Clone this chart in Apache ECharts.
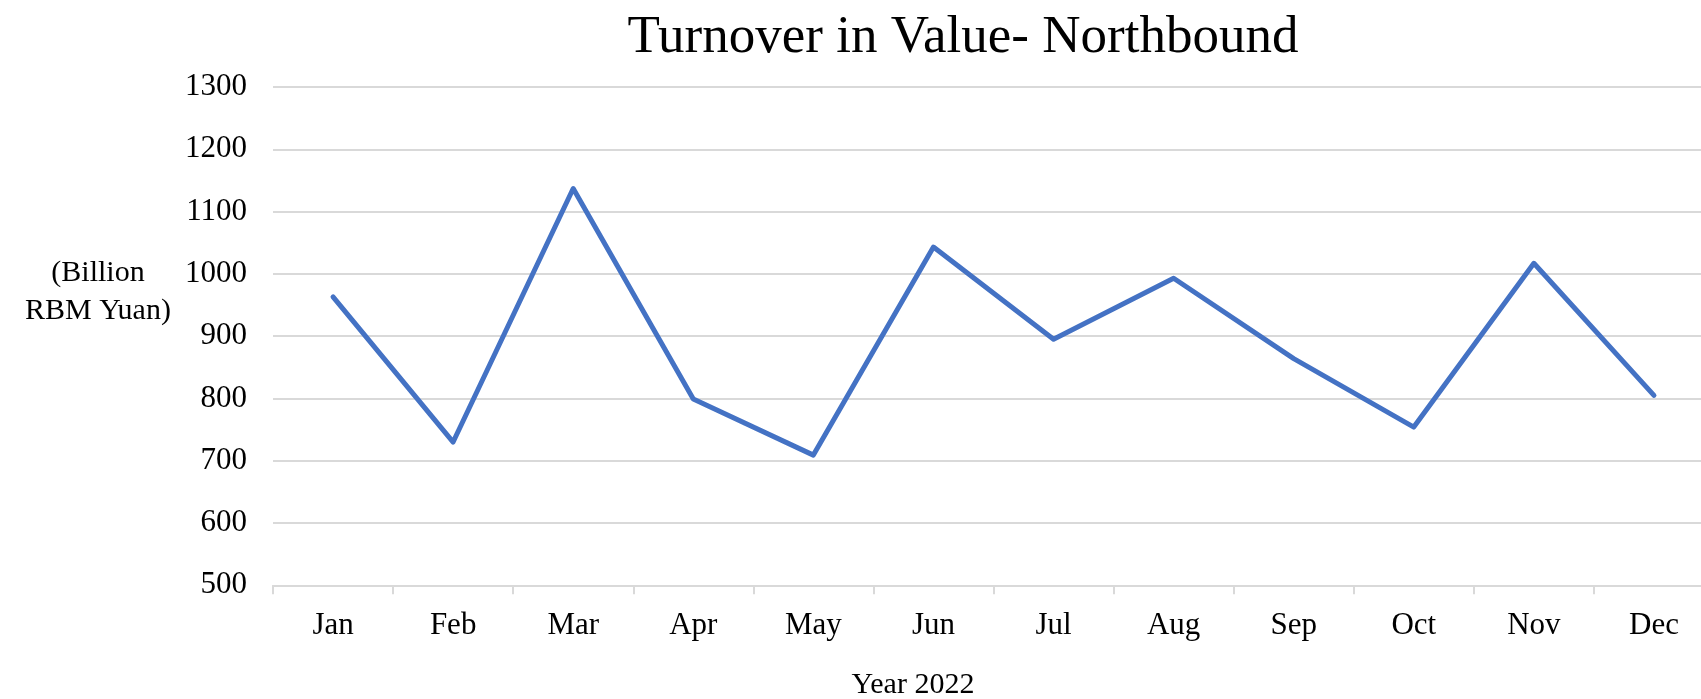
<!DOCTYPE html>
<html>
<head>
<meta charset="utf-8">
<script src="https://cdn.jsdelivr.net/npm/echarts@6/dist/echarts.min.js"></script>
<style>
html,body{margin:0;padding:0;background:#fff;}
#c{width:1701px;height:699px;}
</style>
</head>
<body>
<div id="c"></div>
<script>
const months = ['Jan','Feb','Mar','Apr','May','Jun','Jul','Aug','Sep','Oct','Nov','Dec'];
const turnover = [963, 730, 1137, 799, 709, 1043, 895, 993, 864, 754, 1017, 805];
const titleText = 'Turnover in Value- Northbound';
const yName = '(Billion\nRBM Yuan)';
const xName = 'Year 2022';

const FONT = '"Liberation Serif", "Times New Roman", serif';
const chart = echarts.init(document.getElementById('c'), null, {renderer:'canvas'});
chart.setOption({
  backgroundColor: '#ffffff',
  animation: false,
  title: [
    { text: titleText, left: 958, top: 7, textAlign: 'center',
      textStyle: { fontFamily: FONT, fontSize: 53, fontWeight: 'normal', color: '#000' } },
    { text: yName, left: 93, top: 249, textAlign: 'center',
      textStyle: { fontFamily: FONT, fontSize: 30, fontWeight: 'normal', color: '#000', lineHeight: 38, align: 'center' } },
    { text: xName, left: 908, top: 665, textAlign: 'center',
      textStyle: { fontFamily: FONT, fontSize: 30, fontWeight: 'normal', color: '#000' } }
  ],
  grid: { left: 273, top: 87, width: 1441, height: 498.3, containLabel: false, outerBoundsMode: 'none' },
  xAxis: {
    type: 'category',
    data: months,
    boundaryGap: true,
    axisLine: { show: true, lineStyle: { color: '#d9d9d9', width: 2 } },
    axisTick: { show: true, length: 9, lineStyle: { color: '#d9d9d9', width: 2 } },
    axisLabel: { fontFamily: FONT, fontSize: 31, color: '#000', margin: 25 },
    splitLine: { show: false }
  },
  yAxis: {
    type: 'value',
    min: 500, max: 1300, interval: 100,
    axisLine: { show: false },
    axisTick: { show: false },
    axisLabel: { fontFamily: FONT, fontSize: 31, color: '#000', margin: 26,
      formatter: function (v) { return String(v); } },
    splitLine: { show: true, lineStyle: { color: '#d9d9d9', width: 2 } }
  },
  series: [{
    type: 'line',
    data: turnover,
    symbol: 'none',
    lineStyle: { color: '#4472C4', width: 5, join: 'round', cap: 'round' },
    itemStyle: { color: '#4472C4' }
  }]
});
</script>
</body>
</html>
